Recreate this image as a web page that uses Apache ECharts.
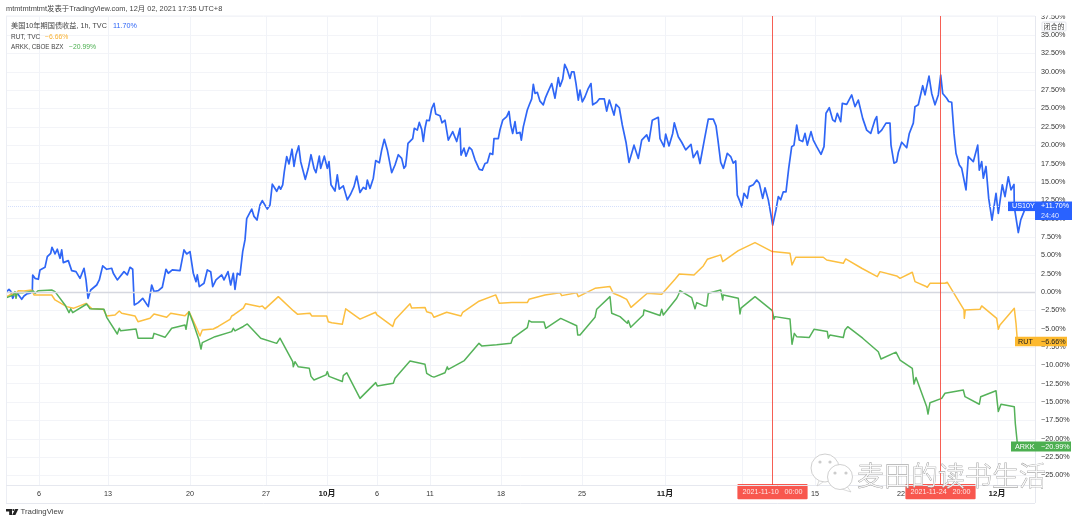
<!DOCTYPE html>
<html><head><meta charset="utf-8">
<style>html,body{margin:0;padding:0;background:#fff}#c{width:1080px;height:522px}</style>
<script src="https://cdn.jsdelivr.net/npm/echarts@6/dist/echarts.min.js"></script>
</head><body><div id="c"></div>
<script>
// [bar position, % change]
const us10y=[[6.7,0.05],[9,0.36],[11,0.05],[12.7,-0.86],[15,-0.18],[17.3,-0.18],[19.3,-0.41],[21.7,-1],[24,-0.55],[26.7,-0.27],[30,-0.18],[32.3,0.05],[32.7,2.3],[35,1.86],[38.3,1.73],[40,3],[45,3.36],[47.3,4.82],[50.7,5.27],[52,6.09],[55,5.18],[57.3,5.82],[60,4.59],[61.7,5.73],[63.3,4],[68.3,4.27],[71.7,2.91],[76,2.77],[80,1.86],[84,3.23],[86,1.64],[88,-0.86],[90.7,0.27],[96.7,0.95],[99.3,1.64],[102.7,3.55],[106.7,3.09],[111.7,3.23],[113.3,2.55],[117.3,1.64],[124,2.77],[127.3,2.32],[130,3.36],[132.7,3.09],[134.3,-1.77],[138.3,-1.45],[142.7,-0.86],[148.3,-2],[151.7,0.95],[154,0.05],[158.3,0.18],[162.3,0.64],[166,3.09],[168.3,2.55],[172.3,3],[180,2.91],[184,5.73],[186.7,5.18],[190,5.5],[193.3,2.55],[196,1.41],[197.3,2.32],[199.3,0.73],[204,1.18],[207.3,3],[210.7,2.77],[212.7,0.73],[216,1.64],[221.7,2.32],[224,1.64],[228,2.77],[230.7,0.95],[233.3,2.55],[235,0.36],[237.3,2.55],[240,2.32],[242.7,5.5],[245,7.09],[246.7,10],[251.7,11.3],[254,10.3],[257,9.8],[260,11.85],[262.3,12.45],[267.3,11.3],[270,11.85],[272.3,14.7],[275,14.1],[276.7,13.7],[279,14.4],[280.7,14],[282.7,14.6],[284.3,16.4],[286.7,18.45],[289,17.45],[292,19.45],[294,17.1],[296,18.7],[298.7,19.9],[300.7,17.75],[302.7,17.9],[305.3,15.35],[308.3,16.85],[311,18.7],[314,16.85],[316,16.25],[319.3,18.5],[320.7,16.85],[324.3,18.5],[327.3,16.85],[329,17.75],[331,14.6],[335,13.75],[337.3,15.95],[339.3,14],[343.3,14.45],[347.3,12.55],[350.7,13.35],[354,14.35],[356.7,15.8],[360,13.55],[363.3,14.25],[366,14],[367.3,15.25],[370,14.1],[373.3,15.5],[375.7,17.9],[379.3,17.6],[381.7,19.35],[384.3,20.8],[387.3,19.35],[391.7,16.25],[395,17.3],[398.3,18.7],[401.7,18.2],[404,16.85],[405.7,17.15],[408,20.25],[412.7,20.9],[414.3,22.3],[417.3,22.05],[419.3,23.1],[421.7,22.15],[423.3,20.5],[425,22.3],[426.7,23.4],[429.3,23.35],[431.7,25],[434,25.7],[435.7,24.25],[440,24],[442,23.05],[445,23.4],[448.3,20.7],[452.7,21.85],[456.7,20.5],[460,22.3],[461,18.65],[464,19.6],[466,18.5],[469.3,19.7],[471.7,19.4],[475,18],[476.7,18.2],[479.3,16.7],[482.3,16.6],[485,17.5],[487.3,17.6],[490,18.9],[492.7,18.75],[494,20.9],[496,21.15],[498.3,20.9],[500,22.1],[502.7,23.4],[506.7,23.9],[509,24.6],[510.7,22.75],[512.7,21.6],[515,23.2],[516.7,21.6],[520,21.75],[521.3,20.7],[523.3,22.5],[525,22.75],[527.3,24.8],[529.3,25.5],[531.7,26.3],[533.3,28.3],[535,27.05],[537.3,27.2],[540,26],[543.3,25.5],[545.3,26.4],[547.3,27.05],[551.7,28.4],[555,26.4],[556.7,26.6],[558.3,29.2],[560,28],[562.7,29],[564.7,31],[567.3,30.25],[570,29.1],[571.7,30],[574,30],[576,28.4],[578.3,26.15],[580,27.5],[582.3,25.9],[585,26.6],[588.3,27.75],[591,28.4],[592.7,25.5],[596.7,25.85],[599.3,26.3],[604.3,26.3],[606.7,24.65],[609.3,26.15],[614,24.1],[616,25.55],[619.3,25.1],[622.3,22.75],[624,22.5],[626,20.4],[629,17.65],[631.7,18.9],[634,20],[638.3,18.2],[641.7,20.7],[646.7,21.4],[649,20.55],[652.3,23.4],[658.3,23.8],[660,20.9],[664,19.8],[665.7,21.5],[669,19.9],[672.7,21.6],[674.3,23.05],[678.3,21.15],[681.7,20.4],[685.7,19.35],[691,20.1],[693.3,18.3],[697.3,19.2],[700,17.5],[704.3,20.7],[708.3,23.55],[713.3,23.55],[716,22.65],[717.7,20.95],[720.7,17.65],[723.3,16.85],[727.3,18.9],[730.7,18.45],[733.3,17.55],[735.7,17.85],[737.3,13.2],[740,12.3],[741.7,11.6],[744,13.45],[747.3,12.75],[749.3,14.35],[753.3,14.6],[756.7,15.25],[759.3,14.8],[762.7,12.75],[765,14.2],[768.3,12.55],[770.7,10.7],[772.7,9.1],[776,11.2],[778.3,13],[780.7,12.55],[783.3,13.65],[786,13.65],[787,13.9],[788.7,16.85],[791.7,19.8],[794,20],[796.7,22.75],[799.3,20.7],[802.7,20.5],[805,21.6],[807.3,20],[811,21.85],[813.3,20.7],[816.7,19.8],[821,18.75],[824,19.8],[826,24.35],[829.3,25.1],[832.7,23.45],[835,23.2],[837.3,24.35],[840.7,23.2],[842.3,25.7],[846.7,25.55],[851.7,26.85],[855,25.25],[858.3,26.15],[862.7,23.65],[866.7,22.05],[870.7,21.6],[875,23.45],[876.7,23.9],[878.3,21.6],[881.7,22.05],[886,23],[890,23],[891,20],[894,17.55],[896.7,17.75],[898.3,19],[901.7,20.4],[906.7,19.65],[909.3,21.6],[913.3,23],[915,25.25],[918.3,25.5],[922.7,28.1],[925,26.85],[929,29.4],[931.7,27.05],[935,25.5],[938.3,26.85],[940.7,29.55],[942.7,27.05],[946.7,26.4],[948.7,25.95],[951.7,25.85],[954,21.6],[956,18.9],[959.3,17.3],[961.7,16.85],[966,13.9],[968.3,18.45],[973.3,17.75],[977.7,20],[979.3,16.6],[981.7,17.75],[983.3,15.5],[986,17.1],[988.7,12.75],[992,9.8],[996,13.45],[998.3,10.7],[1002.3,14.6],[1005,13],[1008.3,15.7],[1011,13.9],[1014,14.65],[1014.3,11.6],[1018.3,8.1],[1020.7,9.8],[1023.3,10.7],[1026,11.7]];
const rut=[[6.7,-0.64],[11.7,-0.27],[15,-0.41],[18.3,0.18],[20,-0.05],[24,0.14],[31.7,0.27],[34,-0.41],[51.7,-0.41],[55,-1.09],[66.7,-2],[73.3,-2.23],[86,-1.55],[91.7,-2.27],[103.3,-2.36],[106.7,-3.27],[115,-3.14],[119.3,-2.59],[121.7,-2.9],[135,-3.27],[138,-4.05],[150,-3.59],[154,-3],[166.7,-3.45],[170.7,-2.9],[185,-3.23],[189,-2.68],[191.7,-3.45],[196.7,-4.95],[200,-6],[202.3,-5.18],[213.3,-5.05],[218.3,-4.7],[230,-3.73],[231.7,-3.27],[234,-3.1],[243.3,-2.2],[245.7,-1.6],[260,-2],[262.3,-1.9],[265,-2.3],[278.3,-0.64],[280,-0.45],[293.3,-2.55],[297.7,-3.05],[310,-2.9],[311.7,-3.27],[326.7,-3.27],[328.3,-4.05],[331.7,-4.2],[342.3,-4.4],[345.7,-2.3],[360,-3.7],[375.7,-2.77],[376.7,-3.1],[392.7,-4.7],[395,-3.8],[410,-1.6],[411.7,-2.2],[425,-2.1],[426.7,-2.7],[431.7,-2.9],[434,-3.45],[446.7,-2.77],[461,-3.27],[462.7,-2.77],[478.3,-1.3],[495.7,-0.4],[499.3,-1.55],[511.7,-1.45],[527.3,-1.45],[529,-1],[545,-0.4],[560,-0.1],[561.7,-0.5],[576.7,-0.1],[578.3,-0.64],[595,0.5],[610,0.73],[613.3,-0.18],[620,-0.55],[626.7,-1],[631,-2.09],[647.3,-0.18],[661.7,-0.32],[663.3,-0.4],[675,1.73],[679.3,2.45],[694,2.32],[703.3,3.55],[707.3,4.45],[720.7,5.05],[722.7,4.14],[738.3,5.64],[740,5.4],[755,6.73],[772.3,5.5],[790,5.27],[792,3.68],[795.7,4.73],[823.3,4.73],[826.7,4.36],[843.3,3.9],[845.7,4.5],[861.7,3.23],[863.3,3.35],[877.3,2.09],[880,2.77],[896.7,2.18],[900,1.86],[912.3,2.68],[915,1.41],[917.3,1.27],[925,0.82],[927.3,0.64],[930,1.18],[945,1.18],[947.3,1.32],[964,-2.45],[964.3,-3.59],[965.3,-2.45],[980,-2.36],[981.7,-1.9],[996.7,-3.59],[998.3,-5.09],[1000,-4.5],[1014.3,-2.23],[1016,-4.27],[1017.3,-6.55],[1018,-6.66]];
const arkk=[[6.7,-0.77],[13.3,-0.41],[15,0.05],[16,-0.86],[17.3,-0.09],[23.3,-0.09],[33.3,0.14],[35,-0.18],[38.3,0.18],[51.7,0.27],[55,0.05],[65,-1.77],[69,-2.82],[70.7,-2.3],[72.7,-2.82],[86.7,-1.64],[90,-2.3],[104,-2.36],[106.7,-3.45],[117.3,-5.73],[119.3,-4.95],[120.7,-5.3],[136,-5.05],[138,-6.3],[152.7,-6.3],[154,-5.64],[165,-6.18],[171.7,-4.95],[185,-4.5],[186,-5.09],[189,-2.68],[193.3,-4.27],[199,-6.55],[201,-7.77],[202.3,-6.9],[215,-6.09],[216.7,-5.86],[231.7,-5.4],[233.3,-4.95],[235,-5.3],[243.3,-4.7],[245,-4.9],[247.3,-4.36],[260.7,-6.3],[262.3,-6.1],[276.7,-7],[280,-6.3],[292.7,-9.5],[293.3,-10.2],[295,-9.5],[298.3,-10.2],[309.3,-10.4],[311,-11.5],[314,-12],[326,-11.3],[327.3,-10.85],[329,-11.5],[342.3,-12.2],[343.3,-11.4],[346.7,-11],[360,-14.5],[361.7,-14.35],[375.7,-12.35],[377.3,-12.8],[393.3,-12.45],[395,-11.75],[410,-9.4],[425,-9.85],[426.7,-11.1],[431.7,-11.5],[434,-11.6],[445,-11],[447.3,-10.2],[448.3,-10.55],[464.3,-9.35],[479,-7],[481.7,-7.35],[496.7,-7.2],[497.3,-7.45],[511,-7],[512.7,-6.3],[527.3,-4.85],[529,-3.9],[531.7,-4.1],[544,-4.1],[545.7,-4.95],[560.7,-3.6],[576.7,-4.6],[577.7,-5.85],[580,-5.85],[595,-3.45],[596.7,-2.35],[610,-0.64],[611.7,-2.9],[620,-3.36],[627.3,-4.27],[628.3,-3.9],[630.7,-4.8],[643.3,-3.14],[644,-2.45],[646,-2.7],[660,-3.2],[661.7,-2.36],[663.3,-3.14],[676.7,-0.86],[678.3,-0.41],[680,0.18],[691.7,-0.77],[695,-2.3],[696.7,-1.45],[704,-1.9],[706.7,-1.9],[708.3,-0.18],[720.7,0.27],[722.7,-1.09],[723.3,-0.41],[738.3,-0.86],[740,-3],[741,-2.2],[755,-0.64],[772.3,-2.55],[774,-3.7],[775,-3.36],[790,-3.68],[792,-7.13],[794.3,-5.64],[796.7,-6.09],[809.3,-6.2],[814,-5.09],[827.3,-5.4],[828.3,-6.3],[830,-5.86],[843.3,-6.2],[845,-5.18],[847.7,-4.73],[862.7,-6.3],[878.3,-8.14],[880,-8],[881,-9.14],[896,-8.2],[900,-9.27],[912.3,-10.4],[914,-12.55],[916,-11.64],[926.7,-15.64],[928,-16.64],[930,-15.09],[941.7,-14.5],[945,-13.8],[946.7,-13.6],[963.3,-13.36],[965,-14.27],[979.3,-15.3],[980.7,-14.27],[996,-13.45],[998.3,-16.3],[1001,-15.3],[1014.3,-15.64],[1015.3,-17.9],[1017.3,-20.6],[1018,-20.99]];
const timeTicks=[39,108,190,266,327,377,430,501,582,665,742,815,901,997];
const timeLabels=['6','13','20','27','10月','6','11','18','25','11月','','15','22','12月'];
const priceTicks=[37.5,35,32.5,30,27.5,25,22.5,20,17.5,15,12.5,10,7.5,5,2.5,0,-2.5,-5,-7.5,-10,-12.5,-15,-17.5,-20,-22.5,-25];
const eventBars=[772.5,940.5];
const eventLabels=['2021-11-10   00:00','2021-11-24   20:00'];
const lastValues={US10Y:11.70,RUT:-6.66,ARKK:-20.99};

const FONT="'Liberation Sans','Noto Sans CJK SC',sans-serif";
const BLUE='#2f66f6',YEL='#fcbf40',GRN='#4caf50',RED='#f44336';
const chart=echarts.init(document.getElementById('c'),null,{renderer:'canvas'});
const fmt=v=>(v<0?'−':'')+Math.abs(v).toFixed(2)+'%';
const ln=(d,c,w,z)=>({type:'line',data:d,showSymbol:false,symbol:'none',z,clip:false,
  lineStyle:{color:c,width:w,join:'round'},itemStyle:{color:c},emphasis:{disabled:true}});
const events=ln([],RED,1,5);
events.markLine={silent:true,symbol:'none',animation:false,
  data:eventBars.map((b,i)=>({xAxis:b,lineStyle:{color:RED,width:1,type:'solid',opacity:.85},
    label:{show:true,position:'start',distance:-1,formatter:eventLabels[i],color:'#fff',fontSize:7.2,fontFamily:FONT,
      backgroundColor:'#f7392f',padding:[4,5,4,5],borderRadius:1}}))};
const base=ln([],'#ccc',1,1);
base.markLine={silent:true,symbol:'none',animation:false,label:{show:false},
  data:[{yAxis:0,lineStyle:{color:'#d6d8e0',width:1.4,type:'solid'}},
        {yAxis:lastValues.US10Y,lineStyle:{color:'#d5dffb',width:1,type:'dotted'}}]};
chart.setOption({animation:false,backgroundColor:'#fff',
 grid:{left:6,right:45,top:16,height:469,containLabel:false,show:false},
 tooltip:{show:false},
 xAxis:{type:'value',min:6,max:1035,
   axisLine:{show:false},axisTick:{show:false,customValues:timeTicks},
   splitLine:{show:true,lineStyle:{color:'#f1f3f8',width:1}},
   axisLabel:{customValues:timeTicks,margin:5,color:'#333',fontSize:7.2,fontFamily:FONT,hideOverlap:false,
     showMinLabel:true,showMaxLabel:true,
     formatter:v=>{const s=timeLabels[timeTicks.indexOf(v)]||'';return s.includes('月')?'{m|'+s+'}':s},
     rich:{m:{fontWeight:'bold',fontSize:8,color:'#222',fontFamily:FONT}}}},
 yAxis:{type:'value',position:'right',min:-26.3,max:37.6,
   axisLine:{show:false},axisTick:{show:false,customValues:priceTicks},
   splitLine:{show:true,lineStyle:{color:'#f3f4f8',width:1}},
   axisLabel:{customValues:priceTicks,margin:6,color:'#333',fontSize:7.2,fontFamily:FONT,hideOverlap:false,formatter:fmt}},
 series:[base,ln(us10y,BLUE,1.7,3),ln(rut,YEL,1.5,3),ln(arkk,'#55b259',1.5,3),events]});

const px=(x,y)=>chart.convertToPixel({xAxisIndex:0,yAxisIndex:0},[x,y]);
const R=(x,y,w,h,fill,z=50,stroke)=>({type:'rect',silent:true,z,shape:{x,y,width:w,height:h},style:{fill,stroke}});
const T=(x,y,text,fill,size=7.2,extra={})=>({type:'text',silent:true,z:extra.z||60,x,y,
  style:Object.assign({text,fill,fontSize:size,fontFamily:FONT,verticalAlign:'middle',align:'left'},extra.style||{})});
const L=(x1,y1,x2,y2,c)=>({type:'line',silent:true,z:40,shape:{x1,y1,x2,y2},style:{stroke:c,lineWidth:1}});
const P=(points,fill,stroke,z=60,lw=.6)=>({type:'polygon',silent:true,z,shape:{points},style:{fill,stroke,lineWidth:lw}});
const g=[];
g.push(R(0,0,1080,15.5,'#fff',45));
g.push(L(6.5,16,6.5,503,'#eceef4'),L(6,15.5,1035,15.5,'#eef0f7'),L(6,485.5,1035,485.5,'#e6e8ef'),L(6,503.5,1035,503.5,'#e6e8ef'),L(1035.5,16,1035.5,503,'#e6e8ef'));
g.push(T(6,9,'mtmtmtmtmt发表于TradingView.com, 12月 02, 2021 17:35 UTC+8','#444',7.4));
g.push(T(11,26,'美国10年期国债收益, 1h, TVC','#444',7.2),T(113,26,'11.70%',BLUE,7.2));
g.push(T(11,37,'RUT, TVC','#444',6.5),T(45,37,'−6.66%','#f9b233',6.8));
g.push(T(11,47,'ARKK, CBOE BZX','#444',6.3),T(69,47,'−20.99%',GRN,6.8));
g.push({type:'rect',silent:true,z:60,shape:{x:1042,y:22,width:24,height:9,r:1},style:{fill:'#fff',stroke:'#e3e5ec'}});
g.push(T(1043.5,26.7,'闭合的','#444',7));
// price tags follow the last values through the y scale
const yU=px(0,lastValues.US10Y)[1],yR=px(0,lastValues.RUT)[1],yA=px(0,lastValues.ARKK)[1];
g.push(R(1008,yU-4.5,27,9.5,'#2962ff'),R(1035,yU-4.5,37,18.5,'#2962ff'));
g.push(T(1012,yU+.2,'US10Y','#fff'),T(1041,yU+.2,'+11.70%','#fff'),T(1041,yU+9.5,'24:40','#dfe7ff'));
g.push(R(1015,yR-4,52,9.5,'#fdb92e'));
g.push(T(1018,yR+.8,'RUT','#222'),T(1041,yR+.8,'−6.66%','#222'));
g.push(R(1011,yA-4.5,60,10,GRN));
g.push(T(1015,yA+.5,'ARKK','#fff'),T(1041,yA+.5,'−20.99%','#fff'));
// TradingView mark
g.push(P([[6,509],[12,509],[12,515],[9.2,515],[9.2,511.6],[6,511.6]],'#222'),
 P([[15.2,509],[18.4,509],[15.4,515],[12.2,515]],'#222'),
 {type:'circle',silent:true,z:60,shape:{cx:13.4,cy:510,r:1.1},style:{fill:'#222'}});
g.push(T(20.5,512,'TradingView','#444',7.8));
// watermark
const bub=(cx,cy,r,tx,ty)=>[P([[cx+tx*.6,cy+r*.7],[cx+tx,cy+ty],[cx+tx*.1,cy+r*.95]],'#fff','#c4c4c4',70),
 {type:'circle',silent:true,z:70,shape:{cx,cy,r},style:{fill:'#fff',stroke:'#c4c4c4',lineWidth:.8}}];
g.push(...bub(825,468,14,-8,18));
g.push({type:'circle',silent:true,z:71,shape:{cx:820,cy:462,r:1.6},style:{fill:'#ccc'}},{type:'circle',silent:true,z:71,shape:{cx:830,cy:462,r:1.6},style:{fill:'#ccc'}});
g.push(...bub(840,477,12.5,11,15));
g.push({type:'circle',silent:true,z:71,shape:{cx:835,cy:473,r:1.6},style:{fill:'#ccc'}},{type:'circle',silent:true,z:71,shape:{cx:846,cy:473,r:1.6},style:{fill:'#ccc'}});
g.push({type:'text',silent:true,z:72,x:857,y:476,style:{text:'麦田的读书生活',fontSize:27,fontWeight:300,fontFamily:"'Noto Sans CJK SC'",fill:'rgba(255,255,255,.85)',stroke:'#8f8f8f',lineWidth:.7,verticalAlign:'middle',align:'left'}});
chart.setOption({graphic:{elements:g}});
</script></body></html>
